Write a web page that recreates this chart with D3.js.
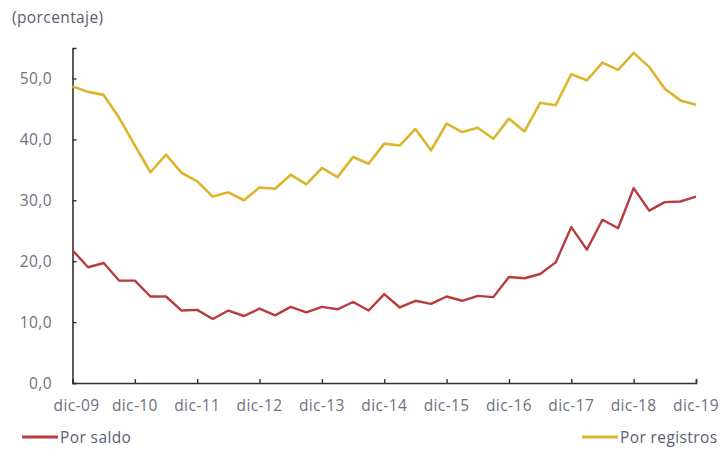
<!DOCTYPE html>
<html>
<head>
<meta charset="utf-8">
<script src="https://cdn.jsdelivr.net/npm/d3@7"></script>
<style>
  body { margin: 0; background: #fff; }
  text { font-family: "Open Sans", sans-serif; letter-spacing: 0.4px; }
</style>
</head>
<body>
<div id="chart"></div>
<script>
// datos trimestrales dic-09 .. dic-19
const yearLabels = ["dic-09","dic-10","dic-11","dic-12","dic-13","dic-14","dic-15","dic-16","dic-17","dic-18","dic-19"];
const yTicks = [0, 10, 20, 30, 40, 50];

const porRegistros = [
  48.7, 47.8, 47.3, 43.5, 39.0, 34.6, 37.5, 34.5, 33.1, 30.6,
  31.3, 30.0, 32.1, 31.9, 34.2, 32.6, 35.3, 33.8, 37.1, 36.0,
  39.3, 39.0, 41.7, 38.2, 42.6, 41.2, 41.9, 40.1, 43.4, 41.3,
  46.0, 45.6, 50.7, 49.7, 52.6, 51.4, 54.2, 51.9, 48.3, 46.4, 45.7
];
const porSaldo = [
  21.8, 19.0, 19.7, 16.8, 16.8, 14.2, 14.2, 11.9, 12.0, 10.5,
  11.9, 11.0, 12.2, 11.1, 12.5, 11.6, 12.5, 12.1, 13.3, 11.9,
  14.6, 12.4, 13.5, 13.0, 14.2, 13.5, 14.3, 14.1, 17.4, 17.2,
  17.9, 19.8, 25.6, 21.9, 26.8, 25.4, 32.0, 28.3, 29.7, 29.8, 30.6
];

const width = 722, height = 452;
const margin = { left: 72.5, right: 26, top: 48, bottom: 69 };

const svg = d3.select("#chart").append("svg")
  .attr("width", width)
  .attr("height", height);

const x = d3.scaleLinear()
  .domain([0, porSaldo.length - 1])
  .range([margin.left, width - margin.right]);

const y = d3.scaleLinear()
  .domain([0, 55])
  .range([height - margin.bottom, margin.top]);

const fmt = d => d3.format(".1f")(d).replace(".", ",");

// eje y
const yAxis = svg.append("g")
  .attr("transform", `translate(${margin.left},0)`)
  .call(d3.axisRight(y).tickValues(yTicks).tickSize(4).tickFormat(""));
yAxis.select(".domain").attr("stroke", "#333").attr("stroke-width", 1.6);
yAxis.selectAll(".tick line").attr("stroke", "#333").attr("stroke-width", 1.4);

svg.append("g").selectAll("text")
  .data(yTicks)
  .enter()
  .append("text")
  .attr("x", 52)
  .attr("y", d => y(d) + 5.5)
  .attr("text-anchor", "end")
  .attr("font-size", "15.5px")
  .attr("fill", "#6f7080")
  .text(fmt);

// eje x
const xAxis = svg.append("g")
  .attr("transform", `translate(0,${y(0)})`)
  .call(d3.axisTop(x)
    .tickValues(d3.range(0, porSaldo.length, 4))
    .tickSize(4)
    .tickFormat(""));
xAxis.select(".domain").attr("stroke", "#333").attr("stroke-width", 1.6);
xAxis.selectAll(".tick line").attr("stroke", "#333").attr("stroke-width", 1.4);

svg.append("g").selectAll("text")
  .data(yearLabels)
  .enter()
  .append("text")
  .attr("x", (d, i) => x(i * 4) + (i === 0 ? 4 : 0))
  .attr("y", y(0) + 28)
  .attr("text-anchor", "middle")
  .attr("font-size", "15.5px")
  .attr("fill", "#6f7080")
  .text(d => d);

svg.append("text")
  .attr("x", 12)
  .attr("y", 23)
  .attr("font-size", "15.5px")
  .attr("fill", "#5a5d70")
  .text("(porcentaje)");

// líneas
const line = d3.line()
  .x((d, i) => x(i))
  .y(d => y(d));

svg.append("path")
  .datum(porRegistros)
  .attr("fill", "none")
  .attr("stroke", "#dcb52c")
  .attr("stroke-width", 2.6)
  .attr("stroke-linejoin", "round")
  .attr("d", line);

svg.append("path")
  .datum(porSaldo)
  .attr("fill", "none")
  .attr("stroke", "#b93b40")
  .attr("stroke-width", 2.4)
  .attr("stroke-linejoin", "round")
  .attr("d", line);

// leyenda
const legendItems = [
  { name: "Por saldo", color: "#b93b40", x: 22 },
  { name: "Por registros", color: "#dcb52c", x: 582 }
];
legendItems.forEach(item => {
  svg.append("line")
    .attr("x1", item.x).attr("x2", item.x + 36)
    .attr("y1", 437).attr("y2", 437)
    .attr("stroke", item.color)
    .attr("stroke-width", 3);
  svg.append("text")
    .attr("x", item.x + 38)
    .attr("y", 443)
    .attr("font-size", "15.5px")
    .attr("fill", "#5a5d70")
    .text(item.name);
});
</script>
</body>
</html>
